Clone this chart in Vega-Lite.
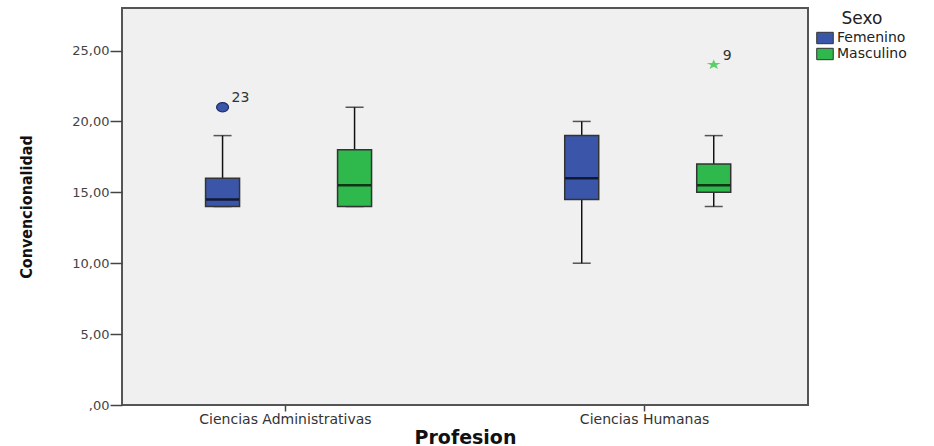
{
  "$schema": "https://vega.github.io/schema/vega-lite/v6.json",
  "width": 686,
  "height": 397,
  "autosize": {"type": "none"},
  "padding": {"left": 122, "top": 8, "right": 126, "bottom": 41},
  "background": "white",
  "config": {
    "view": {"fill": "#f0f0f0", "stroke": "#555555", "strokeWidth": 2},
    "font": "DejaVu Sans"
  },
  "datasets": {
    "cajas": [
      {"Profesion": "Ciencias Administrativas", "Sexo": "Femenino", "min": 14, "q1": 14, "mediana": 14.5, "q3": 16, "max": 19},
      {"Profesion": "Ciencias Administrativas", "Sexo": "Masculino", "min": 14, "q1": 14, "mediana": 15.5, "q3": 18, "max": 21},
      {"Profesion": "Ciencias Humanas", "Sexo": "Femenino", "min": 10, "q1": 14.5, "mediana": 16, "q3": 19, "max": 20},
      {"Profesion": "Ciencias Humanas", "Sexo": "Masculino", "min": 14, "q1": 15, "mediana": 15.5, "q3": 17, "max": 19}
    ],
    "atipicos": [
      {"Profesion": "Ciencias Administrativas", "Sexo": "Femenino", "valor": 21, "caso": "23", "tipo": "atipico"},
      {"Profesion": "Ciencias Humanas", "Sexo": "Masculino", "valor": 24, "caso": "9", "tipo": "extremo"}
    ]
  },
  "encoding": {
    "x": {
      "field": "Profesion",
      "type": "nominal",
      "sort": ["Ciencias Administrativas", "Ciencias Humanas"],
      "scale": {"paddingInner": 0.09, "paddingOuter": 0},
      "title": "Profesion",
      "axis": {
        "domain": false,
        "tickSize": 6,
        "tickColor": "#444444",
        "tickWidth": 1.5,
        "labelAngle": 0,
        "labelFontSize": 14,
        "labelColor": "#333333",
        "labelPadding": 1,
        "titleFontSize": 19,
        "titleFontWeight": "bold",
        "titleColor": "#111111",
        "titlePadding": 2
      }
    },
    "xOffset": {
      "field": "Sexo",
      "type": "nominal",
      "sort": ["Femenino", "Masculino"],
      "scale": {"paddingInner": 0, "paddingOuter": 0.238, "align": 0.55}
    }
  },
  "layer": [
    {
      "data": {"name": "cajas"},
      "mark": {"type": "rule", "color": "#111111", "strokeWidth": 1.5},
      "encoding": {
        "y": {
          "field": "min",
          "type": "quantitative",
          "scale": {"domain": [0, 28], "nice": false, "zero": true},
          "title": "Convencionalidad",
          "axis": {
            "values": [0, 5, 10, 15, 20, 25],
            "grid": false,
            "domain": false,
            "tickSize": 12,
            "tickColor": "#444444",
            "tickWidth": 1.5,
            "labelExpr": "datum.value == 0 ? ',00' : replace(format(datum.value, '.2f'), '.', ',')",
            "labelFontSize": 13,
            "labelColor": "#444444",
            "labelPadding": 1,
            "titleFont": "DejaVu Sans Condensed",
            "titleFontSize": 16,
            "titleFontWeight": "bold",
            "titleColor": "#111111",
            "titlePadding": 37
          }
        },
        "y2": {"field": "max"}
      }
    },
    {
      "data": {"name": "cajas"},
      "mark": {"type": "tick", "color": "#111111", "thickness": 1.5, "size": 18},
      "encoding": {"y": {"field": "min", "type": "quantitative"}}
    },
    {
      "data": {"name": "cajas"},
      "mark": {"type": "tick", "color": "#111111", "thickness": 1.5, "size": 18},
      "encoding": {"y": {"field": "max", "type": "quantitative"}}
    },
    {
      "data": {"name": "cajas"},
      "mark": {"type": "bar", "size": 34, "stroke": "#333333", "strokeWidth": 1.5, "opacity": 1},
      "encoding": {
        "y": {"field": "q1", "type": "quantitative"},
        "y2": {"field": "q3"},
        "color": {
          "field": "Sexo",
          "type": "nominal",
          "scale": {"domain": ["Femenino", "Masculino"], "range": ["#3b56a8", "#2fb84c"]},
          "legend": {
            "orient": "none",
            "legendX": 696,
            "legendY": 3,
            "title": "Sexo",
            "titleFontSize": 17,
            "titleFontWeight": "normal",
            "titleColor": "#222222",
            "titleAnchor": "middle",
            "titlePadding": 3,
            "symbolType": "M-1.45,-1L1.45,-1L1.45,1L-1.45,1Z",
            "symbolSize": 130,
            "symbolStrokeColor": "#333333",
            "symbolStrokeWidth": 1,
            "labelFontSize": 14,
            "labelColor": "#222222",
            "labelOffset": 5,
            "rowPadding": 0
          }
        }
      }
    },
    {
      "data": {"name": "cajas"},
      "mark": {"type": "tick", "color": "#000000", "thickness": 2.5, "size": 33},
      "encoding": {"y": {"field": "mediana", "type": "quantitative"}}
    },
    {
      "data": {"name": "atipicos"},
      "transform": [{"filter": "datum.tipo == 'atipico'"}],
      "mark": {"type": "point", "shape": "M-1.3,0A1.3,1,0,1,1,1.3,0A1.3,1,0,1,1,-1.3,0Z", "filled": true, "size": 85, "stroke": "#1f2f66", "strokeWidth": 1.2, "opacity": 1},
      "encoding": {
        "y": {"field": "valor", "type": "quantitative"},
        "fill": {"value": "#3b56a8"}
      }
    },
    {
      "data": {"name": "atipicos"},
      "transform": [{"filter": "datum.tipo == 'extremo'"}],
      "mark": {"type": "point", "shape": "M0,-1L0.314,-0.309L1.331,-0.309L0.508,0.118L0.823,0.809L0,0.382L-0.823,0.809L-0.508,0.118L-1.331,-0.309L-0.314,-0.309Z", "filled": true, "size": 110, "opacity": 1},
      "encoding": {
        "y": {"field": "valor", "type": "quantitative"},
        "fill": {"value": "#5ccf6a"}
      }
    },
    {
      "data": {"name": "atipicos"},
      "mark": {"type": "text", "align": "left", "baseline": "middle", "dx": 9, "dy": -9, "fontSize": 14, "color": "#333333"},
      "encoding": {
        "y": {"field": "valor", "type": "quantitative"},
        "text": {"field": "caso"}
      }
    }
  ]
}
